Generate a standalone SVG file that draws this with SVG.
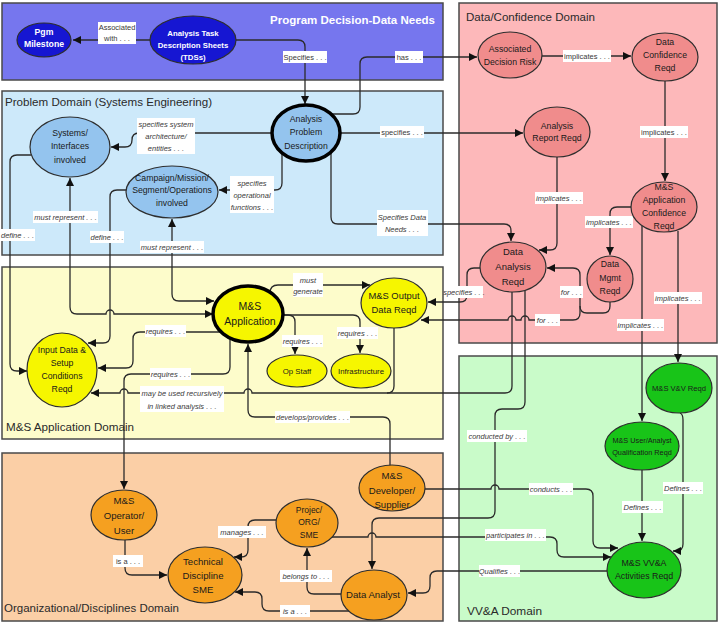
<svg xmlns="http://www.w3.org/2000/svg" width="721" height="625" viewBox="0 0 721 625">
<style>
  .dom { stroke: #4a4a4a; stroke-width: 1.5; }
  .dt { font-family: "Liberation Sans", Arial, sans-serif; font-size: 11.5px; fill: #2a2a2a; }
  .n ellipse { stroke: #2e2e2e; stroke-width: 1.2; }
  .n text { font-family: "Liberation Sans", Arial, sans-serif; font-size: 8.7px; fill: #1a1a1a; text-anchor: middle; }
  .thick ellipse { stroke: #000; stroke-width: 3.5; }
  .pgm ellipse { fill: #1616d2; }
  .pgm text { fill: #ffffff; font-weight: bold; }
  .pb ellipse { fill: #94c4ee; }
  .pk ellipse { fill: #f08c8c; }
  .yl ellipse { fill: #f6f600; }
  .or ellipse { fill: #f5a020; }
  .gr ellipse { fill: #18c418; }
  .or text { font-size: 9.6px; }
  #connectors path { fill: none; stroke: #2b2b2b; stroke-width: 1.3; marker-end: url(#ah); }
  #connectors path.plain { marker-end: none; }
  #connectors path.both { marker-start: url(#ah); }
  .lb rect { fill: #ffffff; }
  .lb text { font-family: "Liberation Sans", Arial, sans-serif; font-size: 7.5px; fill: #3a3a3a; text-anchor: middle; }
  .it text { font-style: italic; }
</style>
<defs>
  <marker id="ah" viewBox="0 0 10 10" refX="10" refY="5" markerWidth="9" markerHeight="8" markerUnits="userSpaceOnUse" orient="auto-start-reverse">
    <path d="M0,0 L10,5 L0,10 z" fill="#111"/>
  </marker>
</defs>

<!-- domain panels -->
<g id="domains">
  <rect class="dom" x="2" y="3" width="441" height="77" fill="#7676ee"/>
  <text class="dt" x="435" y="24" text-anchor="end" fill="#ffffff" style="fill:#ffffff;font-weight:bold" textLength="165" lengthAdjust="spacingAndGlyphs">Program Decision-Data Needs</text>
  <rect class="dom" x="2" y="91" width="441" height="164" fill="#cde9fa"/>
  <text class="dt" x="5" y="106" textLength="207" lengthAdjust="spacingAndGlyphs">Problem Domain (Systems Engineering)</text>
  <rect class="dom" x="2" y="267" width="441" height="172" fill="#fdfccb"/>
  <text class="dt" x="6" y="431" textLength="128" lengthAdjust="spacingAndGlyphs">M&amp;S Application Domain</text>
  <rect class="dom" x="2" y="453" width="441" height="168" fill="#fbcfa6"/>
  <text class="dt" x="4" y="612" textLength="175" lengthAdjust="spacingAndGlyphs">Organizational/Disciplines Domain</text>
  <rect class="dom" x="459" y="3" width="258" height="340" fill="#fdb8ba"/>
  <text class="dt" x="466" y="21" textLength="129" lengthAdjust="spacingAndGlyphs">Data/Confidence Domain</text>
  <rect class="dom" x="459" y="356" width="258" height="265" fill="#c9fbc9"/>
  <text class="dt" x="467" y="615" textLength="75" lengthAdjust="spacingAndGlyphs">VV&amp;A Domain</text>
</g>

<!-- connectors -->
<g id="connectors">
  <path d="M150 40 H73"/>
  <path d="M236 40 H298 Q305 40 305 47 V104"/>
  <path d="M330 114 H353 Q360 114 360 107 V64 Q360 57 367 57 H477"/>
  <path d="M340 133 H523"/>
  <path d="M272 133 H139 Q132 133 132 140 Q132 147 125 147 H111"/>
  <path d="M282 153 V183 Q282 190 275 190 H219"/>
  <path d="M331 152 V217 Q331 224 338 224 H504 Q511 224 511 231 V241"/>
  <path class="both" d="M70 178 V307 Q70 314 77 314 H106 A4 4 0 0 1 114 314 H213"/>
  <path class="both" d="M172 219 V294 Q172 301 179 301 H214"/>
  <path d="M31 155 H17 Q10 155 10 162 V364 Q10 371 17 371 H27"/>
  <path d="M126 190 H117 Q110 190 110 197 V336 Q110 343 103 343 H88"/>
  <path d="M221 332 H140 Q133 332 133 339 V361 Q133 368 126 368 H98"/>
  <path d="M230 339 V367 Q230 374 223 374 H131 Q124 374 124 381 V489"/>
  <path d="M282 315 H288 Q295 315 295 322 V354"/>
  <path d="M282 315 H353 Q360 315 360 322 V353"/>
  <path d="M270 293 Q270 285 278 285 H370"/>
  <path class="plain" d="M394 328 V386 Q394 393 387 393"/>
  <path d="M512 292 V386 Q512 393 505 393 H252 A4 4 0 0 0 244 393 H128 A4 4 0 0 0 120 393 H91"/>
  <path d="M390 466 V424 Q390 417 383 417 H255 Q248 417 248 410 V344"/>
  <path d="M610 302 V306 Q610 313 603 313 H587 Q580 313 580 306 V275 Q580 268 573 268 H547"/>
  <path d="M580 306 V313 Q580 320 573 320 H529 A4 4 0 0 0 521 320 H516 A4 4 0 0 0 508 320 H421"/>
  <path d="M480 268 H474 Q467 268 467 275 V295 Q467 302 460 302 H428"/>
  <path d="M542 56 H631"/>
  <path d="M665 81 V181"/>
  <path d="M557 157 V243 Q557 250 550 250 H539"/>
  <path d="M632 207 H617 Q610 207 610 214 V255"/>
  <path d="M678 231 V362"/>
  <path d="M642 226 V421"/>
  <path d="M642 470 V541"/>
  <path d="M680 413 Q683 414 683 420 V544 Q683 551 676 551 H673"/>
  <path d="M525 291 V402 Q525 409 518 409 H502 Q495 409 495 416 V511 Q495 518 488 518 H379 Q372 518 372 525 V569"/>
  <path d="M425 489 H491 A4 4 0 0 1 499 489 H586 Q593 489 593 496 V541 Q593 548 600 548 H618"/>
  <path d="M332 537 H368 A4 4 0 0 1 376 537 H550 Q557 537 557 544 V550 Q557 557 564 557 H611"/>
  <path d="M607 571 H437 Q430 571 430 578 V586 Q430 593 423 593 H408"/>
  <path d="M125 540 V568 Q125 575 132 575 H167"/>
  <path d="M276 520 H255 Q248 520 248 527 V550 Q248 557 241 557 H234"/>
  <path d="M341 594 H314 Q307 594 307 587 V548"/>
  <path d="M349 611 H269 Q262 611 262 604 V599 Q262 592 255 592 H235"/>
</g>

<!-- connector labels -->
<g id="labels">
  <g class="lb"><rect x="98" y="22" width="38" height="22"/><text x="117" y="30">Associated</text><text x="117" y="41">with . . .</text></g>
  <g class="lb"><rect x="283" y="51" width="44" height="12"/><text x="305" y="59.7">Specifies . . .</text></g>
  <g class="lb"><rect x="395" y="51" width="28" height="12"/><text x="409" y="59.7">has . . .</text></g>
  <g class="lb"><rect x="380" y="126" width="44" height="12"/><text x="402" y="134.7">specifies . . .</text></g>
  <g class="lb it"><rect x="137" y="118" width="58" height="36"/><text x="166" y="126.5">specifies system</text><text x="166" y="138.5">architecture/</text><text x="166" y="150.5">entities . . .</text></g>
  <g class="lb it"><rect x="230" y="176" width="44" height="37"/><text x="252" y="185.5">specifies</text><text x="252" y="197.5">operational</text><text x="252" y="209.5">functions . . .</text></g>
  <g class="lb it"><rect x="377" y="210" width="51" height="26"/><text x="402" y="219.5">Specifies Data</text><text x="402" y="231.5">Needs . . .</text></g>
  <g class="lb it"><rect x="33" y="211" width="65" height="12"/><text x="65.5" y="219.7">must represent . . .</text></g>
  <g class="lb it"><rect x="0" y="229" width="35" height="12"/><text x="17.5" y="237.7">define . . .</text></g>
  <g class="lb it"><rect x="90" y="231" width="34" height="12"/><text x="107" y="239.7">define . . .</text></g>
  <g class="lb it"><rect x="140" y="241" width="64" height="12"/><text x="172" y="249.7">must represent . . .</text></g>
  <g class="lb"><rect x="563" y="50" width="48" height="12"/><text x="587" y="58.7">implicates . . .</text></g>
  <g class="lb"><rect x="640" y="126" width="48" height="12"/><text x="664" y="134.7">implicates . . .</text></g>
  <g class="lb it"><rect x="535" y="192" width="48" height="12"/><text x="559" y="200.7">implicates . . .</text></g>
  <g class="lb it"><rect x="585" y="216" width="48" height="12"/><text x="609" y="224.7">implicates . . .</text></g>
  <g class="lb it"><rect x="560" y="286" width="23" height="12"/><text x="571.5" y="294.7">for . . .</text></g>
  <g class="lb it"><rect x="654" y="292" width="48" height="12"/><text x="678" y="300.7">implicates . . .</text></g>
  <g class="lb it"><rect x="445" y="286" width="38" height="12"/><text x="464" y="294.7">specifies . . .</text></g>
  <g class="lb it"><rect x="535" y="314" width="25" height="12"/><text x="547.5" y="322.7">for . . .</text></g>
  <g class="lb it"><rect x="617" y="319" width="47" height="12"/><text x="640.5" y="327.7">implicates . . .</text></g>
  <g class="lb it"><rect x="293" y="273" width="30" height="24"/><text x="308" y="282.5">must</text><text x="308" y="293.5">generate</text></g>
  <g class="lb it"><rect x="145" y="325" width="41" height="12"/><text x="165.5" y="333.7">requires . . .</text></g>
  <g class="lb it"><rect x="150" y="368" width="41" height="12"/><text x="170.5" y="376.7">requires . . .</text></g>
  <g class="lb it"><rect x="282" y="335" width="41" height="12"/><text x="302.5" y="343.7">requires . . .</text></g>
  <g class="lb it"><rect x="337" y="327" width="41" height="12"/><text x="357.5" y="335.7">requires . . .</text></g>
  <g class="lb it"><rect x="140" y="386" width="84" height="26"/><text x="182" y="395.5">may be used recursively</text><text x="182" y="408.5">in linked analysis . . .</text></g>
  <g class="lb it"><rect x="275" y="411" width="75" height="12"/><text x="312.5" y="419.7">develops/provides . . .</text></g>
  <g class="lb it"><rect x="467" y="430" width="60" height="12"/><text x="497" y="438.7">conducted by . . .</text></g>
  <g class="lb it"><rect x="529" y="483" width="44" height="12"/><text x="551" y="491.7">conducts . . .</text></g>
  <g class="lb it"><rect x="485" y="529" width="61" height="12"/><text x="515.5" y="537.7">participates in . . .</text></g>
  <g class="lb it"><rect x="479" y="565" width="41" height="12"/><text x="499.5" y="573.7">Qualifies . . .</text></g>
  <g class="lb it"><rect x="622" y="501" width="41" height="12"/><text x="642.5" y="509.7">Defines . . .</text></g>
  <g class="lb it"><rect x="663" y="482" width="40" height="12"/><text x="683" y="490.7">Defines . . .</text></g>
  <g class="lb"><rect x="113" y="555" width="30" height="12"/><text x="128" y="563.7">is a . . .</text></g>
  <g class="lb it"><rect x="218" y="526" width="48" height="12"/><text x="242" y="534.7">manages . . .</text></g>
  <g class="lb it"><rect x="280" y="570" width="52" height="12"/><text x="306" y="578.7">belongs to . . .</text></g>
  <g class="lb it"><rect x="280" y="605" width="30" height="12"/><text x="295" y="613.7">is a . . .</text></g>
</g>

<!-- nodes -->
<g id="n-pgm-milestone" class="n pgm"><ellipse cx="44" cy="40" rx="27" ry="17"/><text x="44" y="35">Pgm</text><text x="44" y="47">Milestone</text></g>
<g id="n-tds" class="n pgm"><ellipse cx="193" cy="40" rx="43" ry="24"/><text x="193" y="36" style="font-size:7.8px">Analysis Task</text><text x="193" y="48" style="font-size:7.8px">Description Sheets</text><text x="193" y="60" style="font-size:7.8px">(TDSs)</text></g>
<g id="n-systems" class="n pb"><ellipse cx="70" cy="147" rx="40" ry="30"/><text x="70" y="136">Systems/</text><text x="70" y="149">Interfaces</text><text x="70" y="163">involved</text></g>
<g id="n-campaign" class="n pb"><ellipse cx="172" cy="192" rx="46" ry="26"/><text x="172" y="181">Campaign/Mission/</text><text x="172" y="193">Segment/Operations</text><text x="172" y="206">involved</text></g>
<g id="n-apd" class="n pb thick"><ellipse cx="306" cy="133" rx="34" ry="28"/><text x="306" y="122">Analysis</text><text x="306" y="135">Problem</text><text x="306" y="149">Description</text></g>
<g id="n-adr" class="n pk"><ellipse cx="510" cy="55" rx="32" ry="23"/><text x="510" y="52">Associated</text><text x="510" y="65">Decision Risk</text></g>
<g id="n-dcr" class="n pk"><ellipse cx="665" cy="57" rx="33" ry="24"/><text x="665" y="45">Data</text><text x="665" y="58">Confidence</text><text x="665" y="71">Reqd</text></g>
<g id="n-arr" class="n pk"><ellipse cx="557" cy="132" rx="33" ry="25"/><text x="557" y="129">Analysis</text><text x="557" y="141">Report Reqd</text></g>
<g id="n-macr" class="n pk"><ellipse cx="664" cy="207" rx="33" ry="25"/><text x="664" y="190">M&amp;S</text><text x="664" y="203">Application</text><text x="664" y="216">Confidence</text><text x="664" y="229">Reqd</text></g>
<g id="n-dar" class="n pk"><ellipse cx="513" cy="267" rx="33" ry="25"/><text x="513" y="255" style="font-size:9.5px">Data</text><text x="513" y="270" style="font-size:9.5px">Analysis</text><text x="513" y="285" style="font-size:9.5px">Reqd</text></g>
<g id="n-dmr" class="n pk"><ellipse cx="610" cy="279" rx="23" ry="23"/><text x="610" y="267">Data</text><text x="610" y="281">Mgmt</text><text x="610" y="294">Reqd</text></g>
<g id="n-app" class="n yl thick"><ellipse cx="248" cy="314" rx="35" ry="28"/><text x="250" y="310" style="font-size:10.5px">M&amp;S</text><text x="250" y="325" style="font-size:10.5px">Application</text></g>
<g id="n-output" class="n yl"><ellipse cx="394" cy="303" rx="33" ry="25"/><text x="394" y="298.5" style="font-size:9.4px">M&amp;S Output</text><text x="394" y="312.5" style="font-size:9.4px">Data Reqd</text></g>
<g id="n-input" class="n yl"><ellipse cx="62" cy="370" rx="35" ry="37"/><text x="62" y="353">Input Data &amp;</text><text x="62" y="366">Setup</text><text x="62" y="379">Conditions</text><text x="62" y="392">Reqd</text></g>
<g id="n-opstaff" class="n yl"><ellipse cx="297" cy="371" rx="30" ry="16"/><text x="297" y="374" style="font-size:7.8px">Op Staff</text></g>
<g id="n-infra" class="n yl"><ellipse cx="361" cy="371" rx="30" ry="17"/><text x="361" y="374" style="font-size:7.8px">Infrastructure</text></g>
<g id="n-operator" class="n or"><ellipse cx="124" cy="515" rx="33" ry="25"/><text x="124" y="503.5">M&amp;S</text><text x="124" y="518.5">Operator/</text><text x="124" y="533.5">User</text></g>
<g id="n-tdsme" class="n or"><ellipse cx="205" cy="575" rx="37" ry="28"/><text x="203" y="564.5">Technical</text><text x="203" y="578.5">Discipline</text><text x="203" y="592.5">SME</text></g>
<g id="n-porg" class="n or"><ellipse cx="307" cy="523" rx="31" ry="24"/><text x="309" y="513" style="font-size:8.5px">Projec/</text><text x="309" y="525" style="font-size:8.5px">ORG/</text><text x="309" y="538" style="font-size:8.5px">SME</text></g>
<g id="n-developer" class="n or"><ellipse cx="392" cy="488" rx="33" ry="23"/><text x="392" y="478.5">M&amp;S</text><text x="392" y="493.5">Developer/</text><text x="392" y="507.5">Supplier</text></g>
<g id="n-analyst" class="n or"><ellipse cx="374" cy="595" rx="33" ry="25"/><text x="373" y="597.5">Data Analyst</text></g>
<g id="n-vvreqd" class="n gr"><ellipse cx="679" cy="388" rx="33" ry="25"/><text x="679" y="391" style="font-size:7.6px">M&amp;S V&amp;V Reqd</text></g>
<g id="n-uaq" class="n gr"><ellipse cx="642" cy="446" rx="37" ry="24"/><text x="642" y="442.5" style="font-size:7.3px">M&amp;S User/Analyst</text><text x="642" y="455" style="font-size:7.3px">Qualification Reqd</text></g>
<g id="n-vva" class="n gr"><ellipse cx="644" cy="570" rx="37" ry="28"/><text x="644" y="566" style="font-size:8.8px">M&amp;S VV&amp;A</text><text x="644" y="579" style="font-size:8.8px">Activities Reqd</text></g>
</svg>
